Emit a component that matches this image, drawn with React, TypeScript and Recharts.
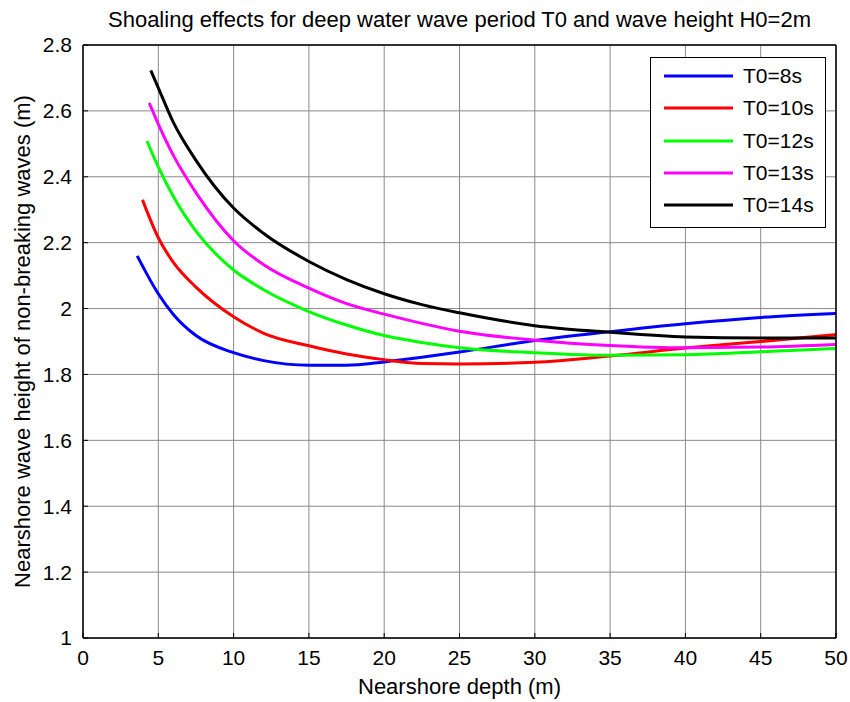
import { CartesianGrid, Legend, Line, LineChart, XAxis, YAxis } from 'recharts';

// depths (m) and nearshore heights (m), one pair per period
const depthT8 = [3.6, 5, 6, 7.5, 10, 12, 15, 17.5, 20, 22.5, 25, 30, 35, 40, 45, 50];
const heightT8 = [2.16, 2.045, 1.982, 1.918, 1.866, 1.842, 1.828, 1.828, 1.838, 1.852, 1.868, 1.903, 1.93, 1.954, 1.973, 1.985];

const depthT10 = [3.95, 5, 6, 7.5, 10, 12, 15, 17.5, 20, 22.5, 25, 30, 35, 40, 45, 50];
const heightT10 = [2.33, 2.215, 2.14, 2.065, 1.975, 1.925, 1.887, 1.862, 1.845, 1.833, 1.832, 1.837, 1.856, 1.88, 1.9, 1.921];

const depthT12 = [4.25, 5, 6, 7.5, 10, 12, 15, 17.5, 20, 22.5, 25, 30, 35, 40, 45, 50];
const heightT12 = [2.508, 2.43, 2.34, 2.235, 2.117, 2.057, 1.991, 1.95, 1.918, 1.897, 1.881, 1.866, 1.858, 1.86, 1.869, 1.879];

const depthT13 = [4.4, 5, 6, 7.5, 10, 12, 15, 17.5, 20, 22.5, 25, 30, 35, 40, 45, 50];
const heightT13 = [2.624, 2.56, 2.465, 2.352, 2.206, 2.133, 2.062, 2.015, 1.983, 1.955, 1.931, 1.904, 1.888, 1.881, 1.883, 1.891];

const depthT14 = [4.5, 5, 6, 7.5, 10, 12, 15, 17.5, 20, 22.5, 25, 30, 35, 40, 45, 50];
const heightT14 = [2.723, 2.67, 2.565, 2.45, 2.305, 2.228, 2.143, 2.088, 2.045, 2.012, 1.987, 1.948, 1.928, 1.914, 1.911, 1.911];

const xTicks = [0, 5, 10, 15, 20, 25, 30, 35, 40, 45, 50];
const yTicks = [1, 1.2, 1.4, 1.6, 1.8, 2, 2.2, 2.4, 2.6, 2.8];

const series = [
  { name: 'T0=8s', color: '#0000ff', depth: depthT8, height: heightT8 },
  { name: 'T0=10s', color: '#ff0000', depth: depthT10, height: heightT10 },
  { name: 'T0=12s', color: '#00ff00', depth: depthT12, height: heightT12 },
  { name: 'T0=13s', color: '#ff00ff', depth: depthT13, height: heightT13 },
  { name: 'T0=14s', color: '#000000', depth: depthT14, height: heightT14 }
];
const seriesOrder = series.map((s) => s.name);

const toPoints = (depth: number[], height: number[]) =>
  depth.map((d, i) => ({ depth: d, height: height[i] }));

const font = '"Liberation Sans", Arial, sans-serif';
const tickStyle = { fill: '#000', fontSize: 21 };

function LegendBox({ payload }: { payload?: any[] }) {
  // keep the plotting order, the legend sorts by name otherwise
  const items = [...(payload ?? [])].sort(
    (a, b) => seriesOrder.indexOf(a.value) - seriesOrder.indexOf(b.value)
  );
  return (
    <div
      style={{
        width: 176,
        height: 171,
        boxSizing: 'border-box',
        border: '1.5px solid #000',
        background: '#fff',
        paddingTop: 2,
        fontFamily: font,
        fontSize: 21,
        color: '#000'
      }}
    >
      {items.map((entry) => (
        <div key={entry.value} style={{ height: 32.3, display: 'flex', alignItems: 'center' }}>
          <svg width={92} height={8} style={{ flex: 'none' }}>
            <line x1={13} x2={82} y1={4} y2={4} stroke={entry.color} strokeWidth={3} />
          </svg>
          <span>{entry.value}</span>
        </div>
      ))}
    </div>
  );
}

export default function App() {
  return (
    <div style={{ position: 'absolute', left: 0, top: 0, width: 850, height: 702, background: '#fff', fontFamily: font }}>
      <div
        style={{
          position: 'absolute',
          left: 83,
          width: 753,
          top: 9,
          textAlign: 'center',
          fontSize: 22,
          lineHeight: '22px',
          color: '#000'
        }}
      >
        Shoaling effects for deep water wave period T0 and wave height H0=2m
      </div>
      <LineChart width={850} height={702} margin={{ top: 44, right: 13, bottom: 0, left: 0 }}>
        <CartesianGrid stroke="#8a8a8a" strokeWidth={1} />
        <XAxis
          type="number"
          dataKey="depth"
          domain={[0, 50]}
          ticks={xTicks}
          height={64}
          tick={tickStyle}
          tickSize={-5}
          tickMargin={17}
          axisLine={{ stroke: '#000', strokeWidth: 1.5 }}
          tickLine={{ stroke: '#000' }}
          label={{ value: 'Nearshore depth (m)', position: 'insideBottom', offset: 8, fill: '#000', fontSize: 22 }}
        />
        <XAxis
          xAxisId="top"
          orientation="top"
          type="number"
          dataKey="depth"
          domain={[0, 50]}
          ticks={xTicks}
          height={1}
          tick={false}
          tickSize={-5}
          axisLine={{ stroke: '#000', strokeWidth: 1.5 }}
          tickLine={{ stroke: '#000' }}
        />
        <YAxis
          type="number"
          domain={[1, 2.8]}
          ticks={yTicks}
          width={83}
          tick={tickStyle}
          tickSize={-5}
          tickMargin={16}
          axisLine={{ stroke: '#000', strokeWidth: 1.5 }}
          tickLine={{ stroke: '#000' }}
          label={{
            value: 'Nearshore wave height of non-breaking waves (m)',
            angle: -90,
            position: 'insideLeft',
            offset: 22,
            fill: '#000',
            fontSize: 22,
            style: { textAnchor: 'middle' }
          }}
        />
        <YAxis
          yAxisId="right"
          orientation="right"
          type="number"
          domain={[1, 2.8]}
          ticks={yTicks}
          width={1}
          tick={false}
          tickSize={-5}
          axisLine={{ stroke: '#000', strokeWidth: 1.5 }}
          tickLine={{ stroke: '#000' }}
        />
        <Legend
          verticalAlign="middle"
          align="center"
          layout="horizontal"
          wrapperStyle={{ left: 650, top: 57, width: 176, height: 171 }}
          content={(props: any) => <LegendBox payload={props.payload} />}
        />
        {series.map((s) => (
          <Line
            key={s.name}
            name={s.name}
            data={toPoints(s.depth, s.height)}
            dataKey="height"
            type="monotone"
            stroke={s.color}
            strokeWidth={3}
            dot={false}
            activeDot={false}
            isAnimationActive={false}
          />
        ))}
      </LineChart>
    </div>
  );
}
